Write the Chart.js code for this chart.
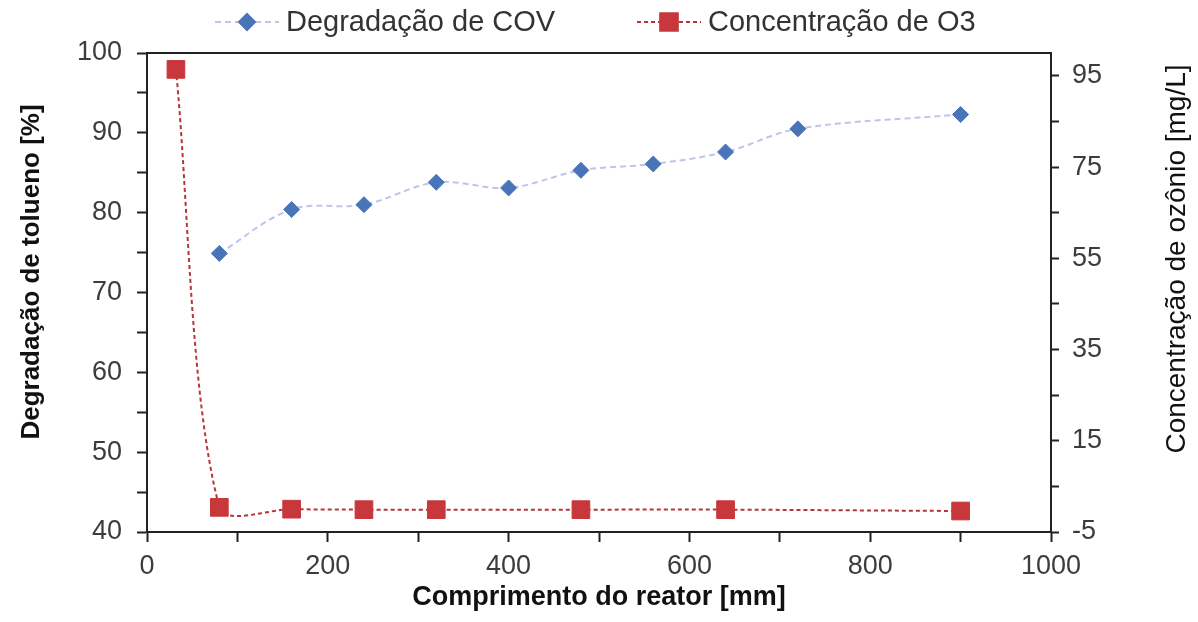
<!DOCTYPE html>
<html>
<head>
<meta charset="utf-8">
<script src="https://cdn.jsdelivr.net/npm/chart.js@4/dist/chart.umd.min.js"></script>
<style>
  html, body { margin: 0; padding: 0; background: #ffffff; }
  #wrap { width: 1198px; height: 622px; position: relative; }
</style>
</head>
<body>
<div id="wrap"><canvas id="chart"></canvas></div>
<script>
// Reactor length [mm] for each measurement
const covLength = [80, 160, 240, 320, 400, 480, 560, 640, 720, 900];
// Toluene degradation [%]
const covDegradation = [74.9, 80.4, 81.0, 83.8, 83.1, 85.3, 86.1, 87.6, 90.5, 92.3];

const ozoneLength = [32, 80, 160, 240, 320, 480, 640, 900];
// Ozone concentration [mg/L]
const ozoneConc = [96.4, 0.4, 0.0, -0.1, -0.1, -0.1, -0.1, -0.4];

const seriesNames = ['Degradação de COV', 'Concentração de O3'];
const leftTitle = 'Degradação de tolueno [%]';
const rightTitle = 'Concentração de ozônio [mg/L]';
const bottomTitle = 'Comprimento do reator [mm]';

// Tick positions (every position gets a tick mark) and the labelled subset
const xTickMarks = [0, 100, 200, 300, 400, 500, 600, 700, 800, 900, 1000];
const xTickLabels = [0, 200, 400, 600, 800, 1000];
const leftTickMarks = [40, 45, 50, 55, 60, 65, 70, 75, 80, 85, 90, 95, 100];
const leftTickLabels = [40, 50, 60, 70, 80, 90, 100];
const rightTickMarks = [-5, 5, 15, 25, 35, 45, 55, 65, 75, 85, 95];
const rightTickLabels = [-5, 15, 35, 55, 75, 95];

const FONT = '"Liberation Sans", Arial, sans-serif';
const AXIS_COLOR = '#222222';
const TICK_TEXT = '#3c3c3c';

const BLUE_LINE = '#bfc4ea';
const BLUE_MARK = '#4a74b8';
const RED_LINE = '#b8343a';
const RED_MARK = '#c8373b';

const toPoints = (xs, ys) => xs.map((x, i) => ({ x: x, y: ys[i] }));
const fixedTicks = list => scale => { scale.ticks = list.map(v => ({ value: v })); };

// Legend drawn as dashed line segment + marker + text
const lineLegend = {
  id: 'lineLegend',
  afterDraw(chart) {
    const ctx = chart.ctx;
    const starts = [215, 637];
    const y = 22;
    ctx.save();
    chart.data.datasets.forEach((ds, i) => {
      const gx = starts[i];
      ctx.beginPath();
      ctx.strokeStyle = ds.borderColor;
      ctx.lineWidth = ds.borderWidth;
      ctx.setLineDash(ds.borderDash);
      ctx.moveTo(gx, y);
      ctx.lineTo(gx + 64, y);
      ctx.stroke();
      ctx.setLineDash([]);
      ctx.fillStyle = ds.pointBackgroundColor;
      ctx.strokeStyle = ds.pointBorderColor;
      Chart.helpers.drawPoint(ctx, {
        pointStyle: ds.pointStyle,
        radius: ds.pointRadius,
        rotation: 0,
        borderWidth: 1
      }, gx + 32, y);
      ctx.fillStyle = '#333333';
      ctx.font = '29px ' + FONT;
      ctx.textBaseline = 'middle';
      ctx.textAlign = 'left';
      ctx.fillText(ds.label, gx + 71, y + 1);
    });
    ctx.restore();
  }
};

// Vertical axis titles, both reading bottom to top
const sideTitles = {
  id: 'sideTitles',
  afterDraw(chart) {
    const ctx = chart.ctx;
    const items = [
      { text: leftTitle, x: 32, y: 272, font: 'bold 26px ' + FONT },
      { text: rightTitle, x: 1177, y: 259, font: '28px ' + FONT }
    ];
    ctx.save();
    ctx.fillStyle = '#111111';
    ctx.textAlign = 'center';
    ctx.textBaseline = 'middle';
    items.forEach(t => {
      ctx.save();
      ctx.translate(t.x, t.y);
      ctx.rotate(-Math.PI / 2);
      ctx.font = t.font;
      ctx.fillText(t.text, 0, 0);
      ctx.restore();
    });
    ctx.restore();
  }
};

// Closes the plot box along its top edge
const topBorder = {
  id: 'topBorder',
  beforeDatasetsDraw(chart) {
    const { ctx, chartArea } = chart;
    ctx.save();
    ctx.strokeStyle = AXIS_COLOR;
    ctx.lineWidth = 2;
    ctx.beginPath();
    ctx.moveTo(chartArea.left, chartArea.top);
    ctx.lineTo(chartArea.right, chartArea.top);
    ctx.stroke();
    ctx.restore();
  }
};

new Chart(document.getElementById('chart'), {
  type: 'line',
  data: {
    datasets: [
      {
        label: seriesNames[0],
        data: toPoints(covLength, covDegradation),
        yAxisID: 'y',
        borderColor: BLUE_LINE,
        borderWidth: 2,
        borderDash: [6, 4],
        tension: 0.35,
        pointStyle: 'rectRot',
        pointRadius: 8,
        pointBackgroundColor: BLUE_MARK,
        pointBorderColor: BLUE_MARK,
        pointBorderWidth: 1
      },
      {
        label: seriesNames[1],
        data: toPoints(ozoneLength, ozoneConc),
        yAxisID: 'y2',
        borderColor: RED_LINE,
        borderWidth: 2,
        borderDash: [4, 3],
        tension: 0.3,
        pointStyle: 'rect',
        pointRadius: 12.5,
        pointBackgroundColor: RED_MARK,
        pointBorderColor: RED_MARK,
        pointBorderWidth: 1
      }
    ]
  },
  options: {
    responsive: true,
    maintainAspectRatio: false,
    animation: false,
    devicePixelRatio: 1,
    layout: { padding: { top: 53, left: 0, right: 0, bottom: 0 } },
    plugins: {
      legend: { display: false },
      tooltip: { enabled: false }
    },
    scales: {
      x: {
        type: 'linear',
        position: 'bottom',
        min: 0,
        max: 1000,
        afterBuildTicks: fixedTicks(xTickMarks),
        afterFit: s => { s.height = 90; },
        ticks: {
          autoSkip: false,
          maxRotation: 0,
          padding: 8,
          color: TICK_TEXT,
          font: { family: FONT, size: 27 },
          callback: v => (xTickLabels.includes(v) ? String(v) : '')
        },
        grid: { drawOnChartArea: false, drawTicks: true, tickLength: 10, tickWidth: 2, tickColor: AXIS_COLOR },
        border: { display: true, color: AXIS_COLOR, width: 2 },
        title: {
          display: true,
          text: bottomTitle,
          color: '#111111',
          font: { family: FONT, size: 27, weight: 'bold' },
          padding: { top: 0, bottom: 8 }
        }
      },
      y: {
        type: 'linear',
        position: 'left',
        min: 40,
        max: 100,
        afterBuildTicks: fixedTicks(leftTickMarks),
        afterFit: s => { s.width = 147; },
        ticks: {
          autoSkip: false,
          padding: 15,
          color: TICK_TEXT,
          font: { family: FONT, size: 27 },
          callback: v => (leftTickLabels.includes(v) ? String(v) : '')
        },
        grid: { drawOnChartArea: false, drawTicks: true, tickLength: 10, tickWidth: 2, tickColor: AXIS_COLOR },
        border: { display: true, color: AXIS_COLOR, width: 2 },
        title: { display: false }
      },
      y2: {
        type: 'linear',
        position: 'right',
        min: -5,
        max: 100,
        afterBuildTicks: fixedTicks(rightTickMarks),
        afterFit: s => { s.width = 147; },
        ticks: {
          autoSkip: false,
          padding: 13,
          color: TICK_TEXT,
          font: { family: FONT, size: 27 },
          callback: v => (rightTickLabels.includes(v) ? String(v) : '')
        },
        grid: { drawOnChartArea: false, drawTicks: true, tickLength: 8, tickWidth: 2, tickColor: AXIS_COLOR },
        border: { display: true, color: AXIS_COLOR, width: 2 },
        title: { display: false }
      }
    }
  },
  plugins: [topBorder, sideTitles, lineLegend]
});
</script>
</body>
</html>
